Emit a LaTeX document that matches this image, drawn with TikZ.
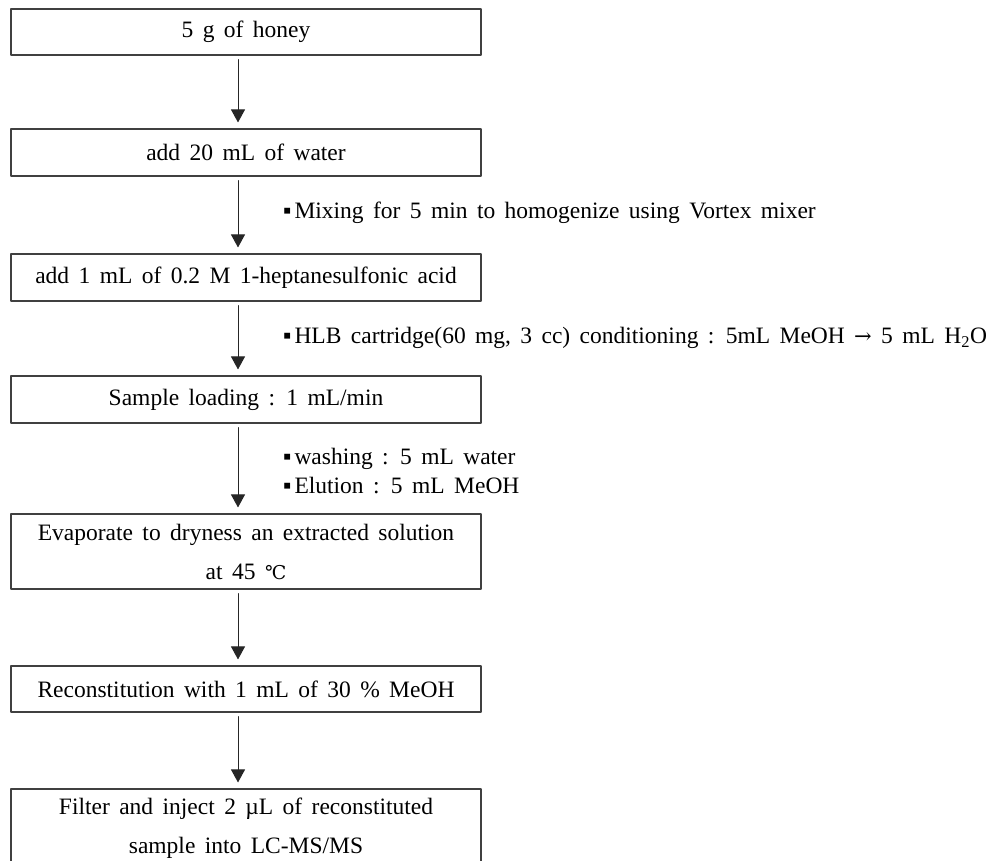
\documentclass[tikz,border=0pt]{standalone}
\usepackage{fontspec}
\setmainfont{Liberation Serif}[WordSpace=1.6]
\newfontfamily\symfont{DejaVu Serif}
\usepackage{tikz}
\usetikzlibrary{arrows.meta}

\begin{document}
\begin{tikzpicture}[line cap=round,line join=round,>={Triangle[width=14pt,length=13pt]},x=1pt,y=-1pt,
  stepbox/.style={draw=black!75,line width=1.1pt,minimum width=470pt,inner sep=0pt,align=center,font=\fontsize{23.5}{39}\selectfont},
  note/.style={anchor=west,inner sep=0pt,align=left,font=\fontsize{23.5}{29}\selectfont},
  flow/.style={->,draw=black!85,line width=0.9pt,shorten <=4pt,shorten >=6pt}]
\useasboundingbox (0,0) rectangle (993,860);
% steps
\node[stepbox,minimum height=46pt] (honey) at (246,32) {5 g of honey};
\node[stepbox,minimum height=47pt] (water) at (246,152.5) {add 20 mL of water};
\node[stepbox,minimum height=47pt] (acid) at (246,277.5) {add 1 mL of 0.2 M 1-heptanesulfonic acid};
\node[stepbox,minimum height=47pt] (load) at (246,399.5) {Sample loading : 1 mL/min};
\node[stepbox,minimum height=75pt] (evap) at (246,551.5) {Evaporate to dryness an extracted solution\\at 45 {\symfont\fontsize{19}{19}\selectfont ℃}};
\node[stepbox,minimum height=46pt] (recon) at (246,689) {Reconstitution with 1 mL of 30 \% MeOH};
\node[stepbox,minimum height=78pt] (inject) at (246,828) {Filter and inject 2 µL of reconstituted\\sample into LC-MS/MS};
% side notes
\node[note] (mix) at (283,213) {▪\kern3pt Mixing for 5 min to homogenize using Vortex mixer};
\node[note] (hlb) at (283,338) {▪\kern3pt HLB cartridge(60 mg, 3 cc) conditioning : 5mL MeOH {\symfont\fontsize{21}{21}\selectfont →} 5 mL H\textsubscript{2}O};
\node[note] (wash) at (283,471.5) {▪\kern3pt washing : 5 mL water\\▪\kern3pt Elution : 5 mL MeOH};
% arrows
\draw[flow] ([xshift=-8pt]honey.south) -- ([xshift=-8pt]water.north);
\draw[flow] ([xshift=-8pt]water.south) -- ([xshift=-8pt]acid.north);
\draw[flow] ([xshift=-8pt]acid.south) -- ([xshift=-8pt]load.north);
\draw[flow] ([xshift=-8pt]load.south) -- ([xshift=-8pt]evap.north);
\draw[flow] ([xshift=-8pt]evap.south) -- ([xshift=-8pt]recon.north);
\draw[flow] ([xshift=-8pt]recon.south) -- ([xshift=-8pt]inject.north);
\end{tikzpicture}
\end{document}
